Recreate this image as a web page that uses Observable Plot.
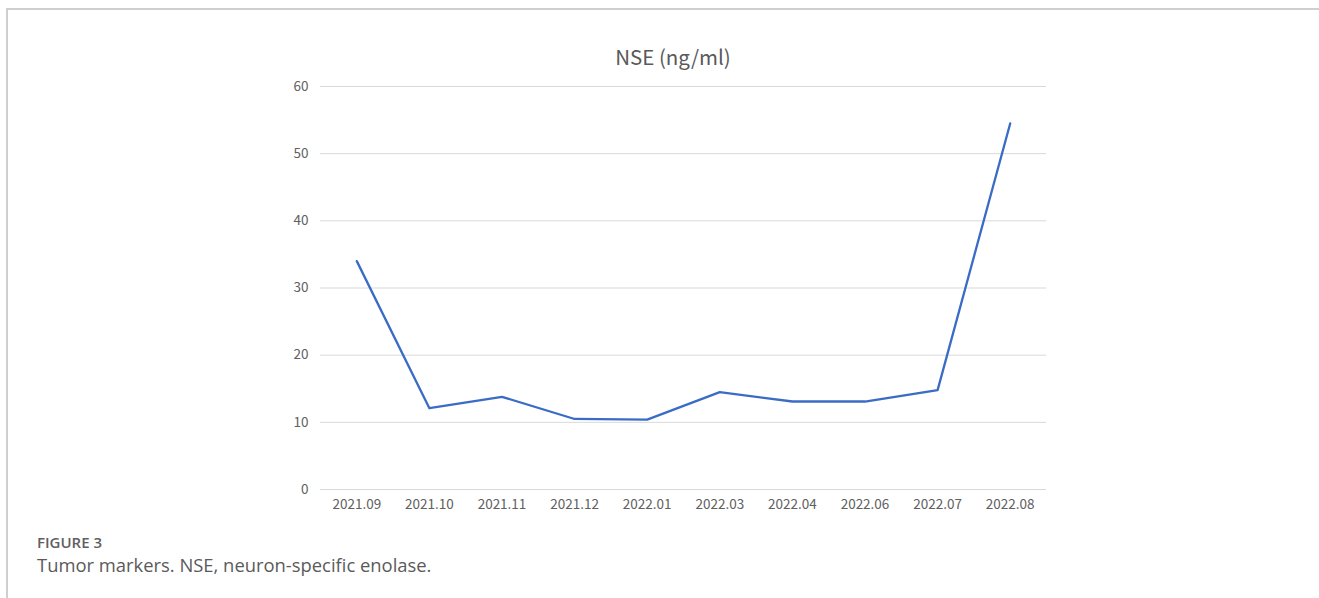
<!DOCTYPE html>
<html>
<head>
<meta charset="utf-8">
<script src="https://cdn.jsdelivr.net/npm/d3@7"></script>
<script src="https://cdn.jsdelivr.net/npm/@observablehq/plot@0.6"></script>
<style>
  html, body { margin: 0; padding: 0; background: #fff; }
  #frame { position: relative; width: 1319px; height: 598px; overflow: hidden; }
  #topline { position: absolute; left: 6px; top: 8px; width: 1313px; height: 0; border-top: 2px solid #cfcfcf; }
  #leftline { position: absolute; left: 6px; top: 8px; width: 0; height: 590px; border-left: 2px solid #cfcfcf; }
  #title { position: absolute; left: 0; top: 41px; width: 1346px; text-align: center;
           font-family: "Noto Sans CJK SC", "Noto Sans", sans-serif; font-size: 20.5px; color: #595959; }
  #chart { position: absolute; left: 0; top: 0; }
  #fig { position: absolute; left: 37px; top: 532px; font-family: "Open Sans", sans-serif;
         font-size: 15px; font-weight: 600; color: #606060; }
  #cap { position: absolute; left: 37px; top: 552px; font-family: "Open Sans", sans-serif;
         font-size: 18.4px; color: #5a5a5a; }
</style>
</head>
<body>
<div id="frame">
  <div id="topline"></div>
  <div id="leftline"></div>
  <div id="chart"></div>
  <div id="title">NSE (ng/ml)</div>
  <div id="fig">FIGURE 3</div>
  <div id="cap">Tumor markers. NSE, neuron-specific enolase.</div>
</div>
<script>
const dates = ["2021.09","2021.10","2021.11","2021.12","2022.01","2022.03","2022.04","2022.06","2022.07","2022.08"];
const nse = [34.0, 12.1, 13.8, 10.5, 10.4, 14.5, 13.1, 13.1, 14.8, 54.5];
const yTicks = [0, 10, 20, 30, 40, 50, 60];

const data = dates.map((d, i) => ({date: d, value: nse[i]}));

const chart = Plot.plot({
  width: 1319,
  height: 530,
  marginTop: 86,
  marginBottom: 41,
  marginLeft: 320,
  marginRight: 273,
  style: { fontFamily: '"Noto Sans CJK SC", "Noto Sans", sans-serif', fontSize: "13.5px", color: "#606060", background: "transparent" },
  x: { type: "point", domain: dates, padding: 0.5, round: false, label: null },
  y: { domain: [0, 60], label: null },
  marks: [
    Plot.gridY(yTicks, { stroke: "#d9d9d9", strokeOpacity: 1, strokeWidth: 1 }),
    Plot.axisY(yTicks, { tickSize: 0, tickPadding: 12, label: null, fill: "#606060" }),
    Plot.axisX({ tickSize: 0, tickPadding: 10, label: null, fill: "#606060" }),
    Plot.line(data, { x: "date", y: "value", stroke: "#3a6cc6", strokeWidth: 2.3 })
  ]
});
document.getElementById("chart").appendChild(chart);
</script>
</body>
</html>
